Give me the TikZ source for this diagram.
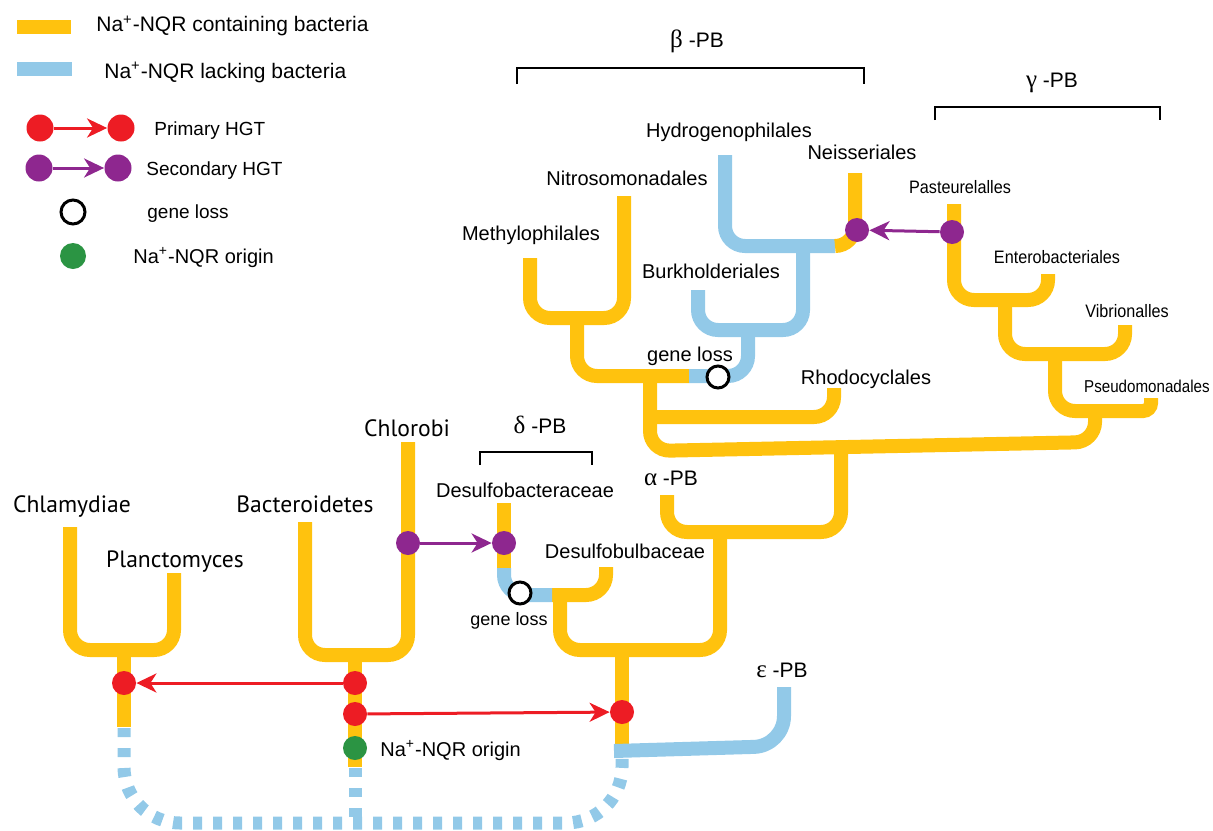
\documentclass[tikz,border=0pt]{standalone}
\usepackage{fontspec}
\setmainfont{Liberation Sans}
\newfontfamily\myr{PT Sans}
\newfontfamily\grk{Liberation Serif}
\newfontfamily\narf[FakeStretch=0.9]{Liberation Sans}
\newfontfamily\narg[FakeStretch=0.88]{Liberation Sans}
\usetikzlibrary{arrows.meta}
\definecolor{orng}{HTML}{FFC20E}
\definecolor{lblue}{HTML}{92C9E8}
\definecolor{hred}{HTML}{ED1C24}
\definecolor{hpurp}{HTML}{8E278F}
\definecolor{ogreen}{HTML}{2B9443}
\begin{document}
\begin{tikzpicture}[x=0.5pt,y=-0.5pt,
  obr/.style={draw=orng, line width=7pt, rounded corners=10pt, line cap=butt},
  bbr/.style={draw=lblue, line width=7pt, rounded corners=10pt, line cap=butt},
  dsh/.style={draw=lblue, line width=6.5pt, dash pattern=on 4.5pt off 5.5pt, rounded corners=28pt},
  redc/.style={circle, fill=hred, minimum size=12pt, inner sep=0pt},
  purc/.style={circle, fill=hpurp, minimum size=12pt, inner sep=0pt},
  grnc/.style={circle, fill=ogreen, minimum size=12pt, inner sep=0pt},
  lossc/.style={circle, draw=black, line width=1.5pt, fill=white, minimum size=11pt, inner sep=0pt},
  hgt/.style={line width=1.5pt, -{Stealth[length=10pt,width=9.5pt,inset=3pt]}},
  brk/.style={draw=black, line width=1.2pt},
  lab/.style={inner sep=0pt, anchor=base, font=\fontsize{10}{12}\selectfont},
  nar/.style={inner sep=0pt, anchor=base, font=\narf\fontsize{9}{11}\selectfont},
  myl/.style={inner sep=0pt, anchor=base, font=\myr\fontsize{11.8}{14}\selectfont},
  grl/.style={inner sep=0pt, anchor=base, font=\fontsize{10.5}{12}\selectfont},
  leg/.style={inner sep=0pt, anchor=base west, font=\fontsize{9.5}{12}\selectfont}
]
\useasboundingbox (0,0) rectangle (1213,830);

% ---------- legend ----------
\fill[orng] (17,20) rectangle (71,34);
\fill[lblue] (17,62) rectangle (72,76);
\node[leg, font=\fontsize{10.5}{12}\selectfont] (l1) at (96,32) {Na\textsuperscript{+}-NQR containing bacteria};
\node[leg, font=\fontsize{10.5}{12}\selectfont] (l2) at (104,78) {Na\textsuperscript{+}-NQR lacking bacteria};
\node[redc, minimum size=13.5pt] (lr1) at (40,128) {};
\node[redc, minimum size=13.5pt] (lr2) at (121,128) {};
\draw[hgt, hred] (lr1) -- (lr2);
\node[leg] (l3) at (154,135) {Primary HGT};
\node[purc, minimum size=13.5pt] (lp1) at (39,168) {};
\node[purc, minimum size=13.5pt] (lp2) at (118,168) {};
\draw[hgt, hpurp] (lp1) -- (lp2);
\node[leg] (l4) at (146,175) {Secondary HGT};
\node[lossc, minimum size=12pt] (lg) at (73,212) {};
\node[leg] (l5) at (147,218) {gene loss};
\node[grnc, minimum size=13pt] (lo) at (73,256) {};
\node[leg, font=\fontsize{10}{12}\selectfont] (l6) at (133,263) {Na\textsuperscript{+}-NQR origin};

% ---------- brackets ----------
\draw[brk] (517,84) -- (517,68) -- (864,68) -- (864,84);
\draw[brk] (935,120) -- (935,107) -- (1160,107) -- (1160,120);
\draw[brk] (480,465) -- (480,452) -- (592,452) -- (592,465);
\node[grl] (beta) at (697,47) {{\grk\fontsize{12.5}{12}\selectfont β} -PB};
\node[grl] (gamma) at (1052,87) {{\grk\fontsize{12.5}{12}\selectfont γ} -PB};
\node[grl] (delta) at (540,433) {{\grk\fontsize{12.5}{12}\selectfont δ} -PB};
\node[grl] (alpha) at (671,485) {{\grk\fontsize{12.5}{12}\selectfont α} -PB};
\node[grl] (eps) at (782,677) {{\grk\fontsize{12.5}{12}\selectfont ε} -PB};

% ---------- dashed ancestral lines ----------
\draw[dsh] (124,728) -- (124,823) -- (622,823) -- (622,752);
\draw[dsh, rounded corners=0pt] (355,768) -- (355,823);

% ---------- Chlamydiae / Planctomyces ----------
\draw[obr] (70,527) |- (124,650) -| (174,573);
\draw[obr] (124,650) -- (124,727);
% ---------- Bacteroidetes / Chlorobi ----------
\draw[obr] (305,522) |- (355,655) -| (408,442);
\draw[obr] (355,655) -- (355,767);

% ---------- beta ----------
\draw[obr] (530,258) |- (577,318) -| (624,196);
\draw[obr] (577,318) |- (689,376);
\draw[bbr] (689,376) -| (748,330);
\draw[bbr] (698,290) |- (748,330) -| (803,246);
\draw[bbr] (725,155) |- (835,246);
\draw[obr] (835,246) -| (855,173);
\draw[obr] (650,417) -| (834,388);
\draw[obr] (650,376) -- (650,451) -- (1095,442) -- (1095,411);

% ---------- gamma ----------
\draw[obr] (954,204) |- (1005,300) -| (1048,274);
\draw[obr] (1005,300) |- (1055,354) -| (1125,325);
\draw[obr] (1055,354) |- (1095,411);
\draw[obr, rounded corners=4pt] (1095,411) -| (1151,398);

% ---------- alpha / delta ----------
\draw[obr] (667,495) |- (720,532) -| (841,450);
\draw[obr] (720,532) |- (622,650) -| (560,595);
\draw[obr] (606,567) |- (552,595);
\draw[bbr] (552,595) -| (504,568);
\draw[obr] (504,568) -- (504,503);
\draw[obr] (622,650) -- (622,745);
% ---------- epsilon ----------
\draw[bbr, rounded corners=15pt] (614,751) -- (784,746) -- (784,687);

% ---------- events ----------
\node[redc] (rc) at (124,683) {};
\node[redc] (rb1) at (355,683) {};
\node[redc] (rb2) at (355,714) {};
\node[redc] (re) at (622,712) {};
\node[grnc] (go) at (355,748) {};
\draw[hgt, hred] (rb1) -- (rc);
\draw[hgt, hred] (rb2) -- (re);
\node[purc] (pc) at (408,543) {};
\node[purc] (pd) at (504,543) {};
\draw[hgt, hpurp] (pc) -- (pd);
\node[purc] (pp) at (952,232) {};
\node[purc] (pn) at (857,230) {};
\draw[hgt, hpurp] (pp) -- (pn);
\node[lossc] (gl1) at (718,377) {};
\node[lossc] (gl2) at (520,593) {};

% ---------- labels ----------
\node[lab] (hyd) at (729,137) {Hydrogenophilales};
\node[lab] (nei) at (862,159) {Neisseriales};
\node[lab] (nit) at (627,185) {Nitrosomonadales};
\node[lab] (met) at (531,240) {Methylophilales};
\node[lab] (bur) at (711,278) {Burkholderiales};
\node[lab] (glb) at (690,361) {gene loss};
\node[lab] (rho) at (866,384) {Rhodocyclales};
\node[nar] (pas) at (960,193) {Pasteurelalles};
\node[nar] (ent) at (1057,263) {Enterobacteriales};
\node[nar] (vib) at (1127,317) {Vibrionalles};
\node[nar, anchor=base east, font=\narg\fontsize{8.6}{10}\selectfont] (pse) at (1210,392) {Pseudomonadales};
\node[myl] (chb) at (407,436) {Chlorobi};
\node[myl] (chl) at (72,512) {Chlamydiae};
\node[myl] (bac) at (305,512) {Bacteroidetes};
\node[myl] (pla) at (175,567) {Planctomyces};
\node[lab] (dsb) at (525,497) {Desulfobacteraceae};
\node[lab] (dsu) at (625,558) {Desulfobulbaceae};
\node[lab, font=\fontsize{9}{11}\selectfont] (gld) at (509,625) {gene loss};
\node[lab, anchor=base west] (ori) at (380,756) {Na\textsuperscript{+}-NQR origin};
\end{tikzpicture}
\end{document}
